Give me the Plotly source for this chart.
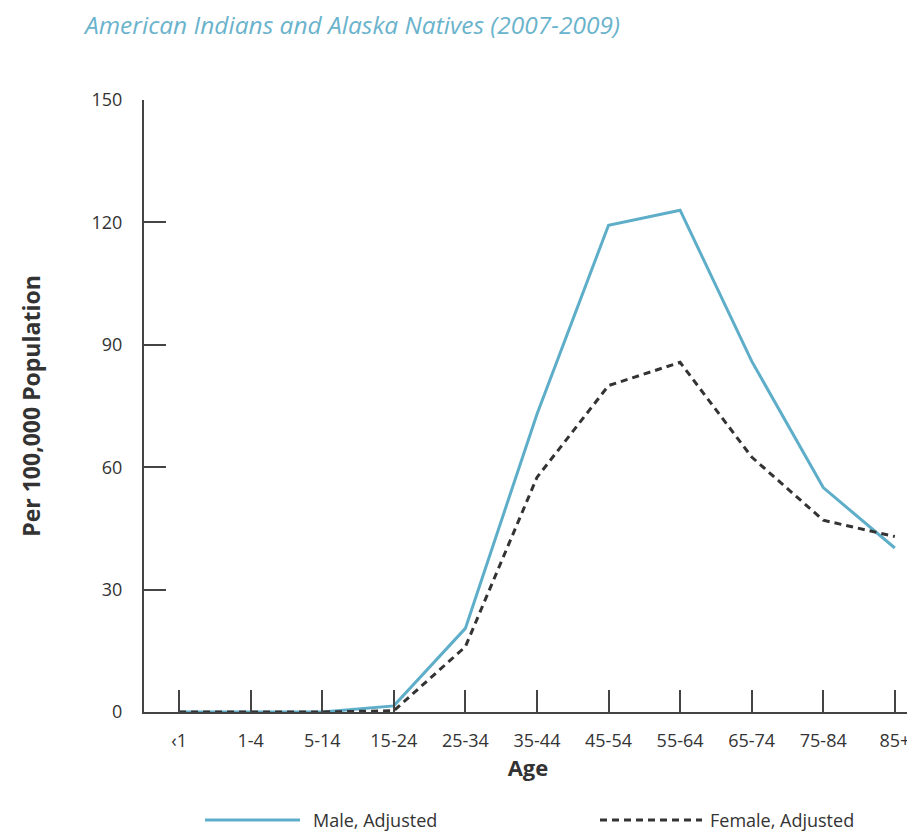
import plotly.graph_objects as go

ages = ["<1", "1-4", "5-14", "15-24", "25-34", "35-44", "45-54", "55-64", "65-74", "75-84", "85+"]
tick_labels = ["‹1", "1-4", "5-14", "15-24", "25-34", "35-44", "45-54", "55-64", "65-74", "75-84", "85+"]
male_adjusted = [0, 0, 0, 1.5, 20.5, 73, 119.3, 123, 86, 55, 40.2]
female_adjusted = [0, 0, 0, 0.3, 16, 57.5, 80, 85.7, 62.5, 47, 43]
y_ticks = [0, 30, 60, 90, 120, 150]

BLUE = "#5eaec9"
DARK = "#333333"
FONT = "Open Sans"

# page body has an 8px margin, so the figure is drawn 8px smaller and offset
W, H = 907, 825
L, T, R, B = 136, 92, 3, 121
PW = W - L - R
PH = H - T - B

fig = go.Figure()
fig.add_trace(go.Scatter(x=ages, y=male_adjusted, mode="lines", name="Male, Adjusted",
                         line=dict(color=BLUE, width=3), cliponaxis=False))
fig.add_trace(go.Scatter(x=ages, y=female_adjusted, mode="lines", name="Female, Adjusted",
                         line=dict(color=DARK, width=3, dash="7px,5px"), cliponaxis=False))

fig.update_layout(
    width=W, height=H,
    margin=dict(l=L, r=R, t=T, b=B),
    paper_bgcolor="white", plot_bgcolor="white",
    showlegend=False,
    font=dict(family=FONT, color=DARK),
    title=dict(text="<i>American Indians and Alaska Natives (2007-2009)</i>",
               x=77 / W, xanchor="left", y=1 - 17 / H, yanchor="middle",
               font=dict(family=FONT, size=24.5, color="#6ab3cc")),
    xaxis=dict(
        type="category", range=[-0.49, 10.24],
        tickvals=ages, ticktext=tick_labels,
        showline=True, linecolor="#444", linewidth=2,
        ticks="inside", ticklen=22, tickwidth=1.5, tickcolor="#444",
        showgrid=False, zeroline=False,
        tickfont=dict(size=18, color=DARK), ticklabelstandoff=11,
        title=dict(text="<b>Age</b>", font=dict(size=22, color=DARK), standoff=8),
    ),
    yaxis=dict(
        range=[0, 150], tickvals=y_ticks,
        showline=True, linecolor="#444", linewidth=2,
        ticks="inside", ticklen=22, tickwidth=1.5, tickcolor="#444",
        showgrid=False, zeroline=False,
        tickfont=dict(size=18, color=DARK), ticklabelstandoff=16,
        title=dict(text="<b>Per 100,000 Population</b>", font=dict(size=23, color=DARK), standoff=44),
    ),
)

# Manual legend
legend_y = -(812 - (T + PH)) / PH
def px(xref_pixel):
    return (xref_pixel - 8 - L) / PW

fig.add_shape(type="line", xref="paper", yref="paper",
              x0=px(205), x1=px(300), y0=legend_y, y1=legend_y,
              line=dict(color=BLUE, width=3))
fig.add_annotation(xref="paper", yref="paper", x=px(311), y=legend_y,
                   text="Male, Adjusted", showarrow=False, xanchor="left", yanchor="middle",
                   font=dict(size=18, color=DARK))
fig.add_shape(type="line", xref="paper", yref="paper",
              x0=px(600), x1=px(702), y0=legend_y, y1=legend_y,
              line=dict(color=DARK, width=3, dash="7px,5px"))
fig.add_annotation(xref="paper", yref="paper", x=px(708), y=legend_y,
                   text="Female, Adjusted", showarrow=False, xanchor="left", yanchor="middle",
                   font=dict(size=18, color=DARK))

fig.write_html("out.html")
